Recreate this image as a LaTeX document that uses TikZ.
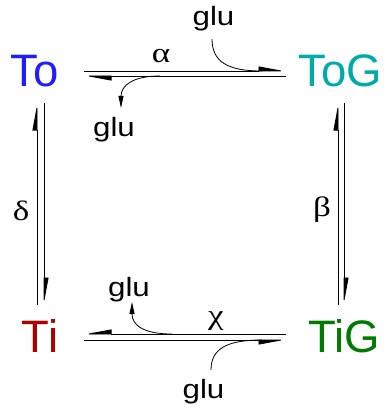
\documentclass[tikz,border=0pt]{standalone}
\usepackage{fontspec}
\setmainfont{Liberation Sans}
\newfontfamily\grk[FakeStretch=1.25]{Liberation Serif}
\newfontfamily\glufont[FakeStretch=1.18]{Liberation Sans}
\usetikzlibrary{arrows.meta}
\definecolor{cTo}{RGB}{30,30,255}
\definecolor{cToG}{RGB}{0,170,170}
\definecolor{cTi}{RGB}{170,0,0}
\definecolor{cTiG}{RGB}{0,122,0}
\begin{document}
\begin{tikzpicture}[x=1pt,y=-1pt,
  species/.style={inner sep=0pt, anchor=base, font=\fontsize{45.5}{46}\selectfont},
  glulbl/.style={inner sep=0pt, anchor=base, font=\glufont\fontsize{26.5}{27}\selectfont},
  grklbl/.style={inner sep=0pt, anchor=base, font=\grk\fontsize{28}{28}\selectfont},
  eqline/.style={line width=0.9pt},
  hl/.style={-{Triangle[left,length=25pt,width=9pt]}},
  hr/.style={-{Triangle[right,length=25pt,width=9pt]}},
  curve/.style={line width=0.8pt},
  gluhead/.style={-{Triangle[length=12pt,width=5pt]}}]
\useasboundingbox (0,0) rectangle (383,409);
% species
\node[species, text=cTo]  (To)  at (35,86.7)   {To};
\node[species, text=cToG] (ToG) at (340.5,86.7) {ToG};
\node[species, text=cTi]  (Ti)  at (40,352)    {Ti};
\node[species, text=cTiG] (TiG) at (344,352)   {TiG};
% rate labels
\node[grklbl] (alpha) at (161,63)  {α};
\node[grklbl] (delta) at (21,220)  {δ};
\node[grklbl] (beta)  at (322,216) {β};
\node[grklbl] (chi)   at (216,324) {χ};
% glu labels
\node[glulbl] (gluA) at (213.5,26) {glu};
\node[glulbl] (gluB) at (114,136)  {glu};
\node[glulbl] (gluC) at (129,296)  {glu};
\node[glulbl] (gluD) at (203.5,398) {glu};
% line end points
\coordinate (a1) at (84,71);  \coordinate (a2) at (286,71);
\coordinate (a3) at (84,76);  \coordinate (a4) at (286,76);
\coordinate (l1) at (37,103); \coordinate (l2) at (37,305);
\coordinate (l3) at (44,103); \coordinate (l4) at (44,305);
\coordinate (r1) at (338,103); \coordinate (r2) at (338,305);
\coordinate (r3) at (344,103); \coordinate (r4) at (344,305);
\coordinate (b1) at (84,334); \coordinate (b2) at (286,334);
\coordinate (b3) at (84,340); \coordinate (b4) at (286,340);
% equilibrium arrows
\draw[eqline,hl] (a1) -- (a2);
\draw[eqline,hl] (a4) -- (a3);
\draw[eqline,hl] (l2) -- (l1);
\draw[eqline,hl] (l3) -- (l4);
\draw[eqline,hl] (r2) -- (r1);
\draw[eqline,hl] (r3) -- (r4);
\draw[eqline,hr] (b2) -- (b1);
\draw[eqline,hr] (b3) -- (b4);
% glu curves
\coordinate (cA0) at (212,39);  \coordinate (cA1) at (262,71);
\coordinate (cB0) at (160,76);  \coordinate (cB1) at (121,108);
\coordinate (cC0) at (172,334); \coordinate (cC1) at (132,302);
\coordinate (cD0) at (211,370); \coordinate (cD1) at (262,340);
\draw[curve] (cA0) .. controls (212,62) and (228,71) .. (cA1);
\draw[curve,gluhead] (cB0) .. controls (132,76) and (121,86) .. (cB1);
\draw[curve,gluhead] (cC0) .. controls (145,334) and (132,326) .. (cC1);
\draw[curve] (cD0) .. controls (211,348) and (228,340) .. (cD1);
\end{tikzpicture}
\end{document}
